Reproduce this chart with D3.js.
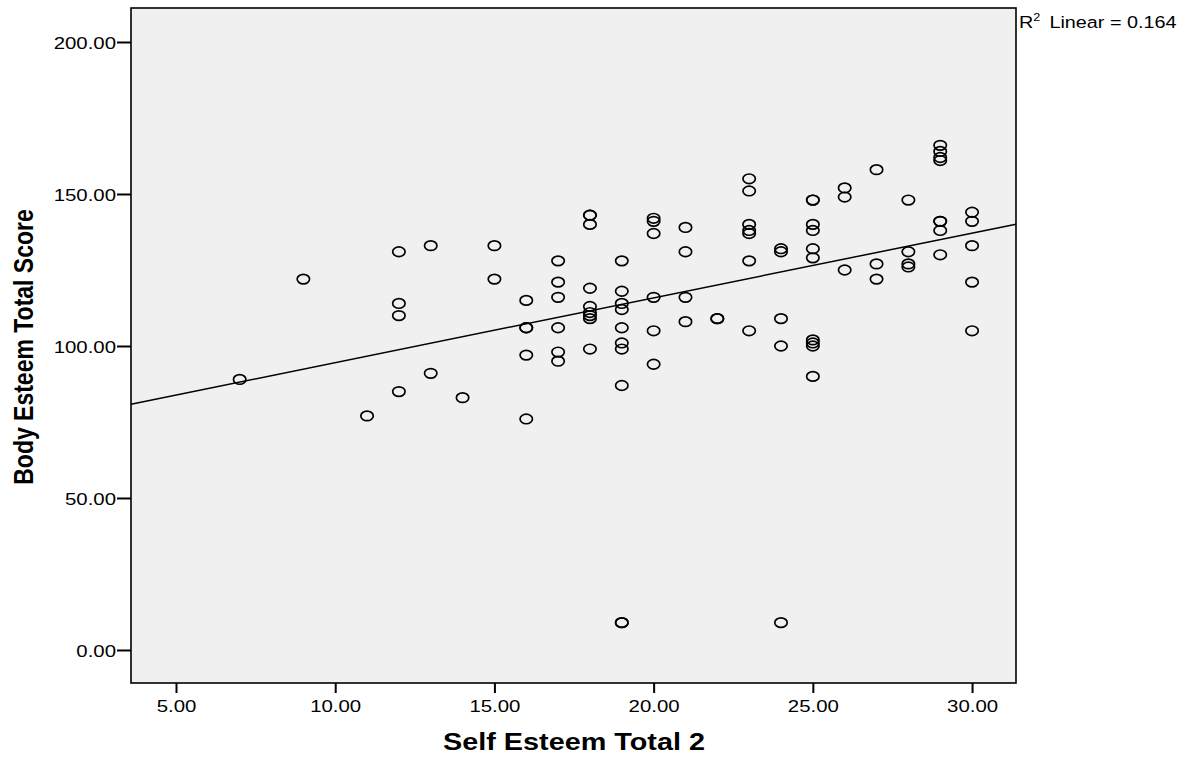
<!DOCTYPE html>
<html>
<head>
<meta charset="utf-8">
<script src="https://cdn.jsdelivr.net/npm/d3@7"></script>
<style>
  body { margin: 0; background: #fff; }
  text { font-family: "Liberation Sans", Arial, sans-serif; fill: #000; }
</style>
</head>
<body>
<svg id="chart" width="1194" height="758"></svg>
<script>
// Self Esteem Total 2 (x) vs Body Esteem Total Score (y)
var selfEsteem = [
  7, 9, 11,
  12, 12, 12, 12,
  13, 13, 14, 15, 15,
  16, 16, 16, 16, 16,
  17, 17, 17, 17, 17, 17,
  18, 18, 18, 18, 18, 18, 18, 18, 18,
  19, 19, 19, 19, 19, 19, 19, 19, 19, 19,
  20, 20, 20, 20, 20, 20,
  21, 21, 21, 21,
  22, 22,
  23, 23, 23, 23, 23, 23, 23,
  24, 24, 24, 24, 24,
  25, 25, 25, 25, 25, 25, 25, 25, 25, 25,
  26, 26, 26,
  27, 27, 27,
  28, 28, 28, 28,
  29, 29, 29, 29, 29, 29, 29, 29,
  30, 30, 30, 30, 30
];
var bodyEsteem = [
  89, 122, 77,
  131, 114, 110, 85,
  133, 91, 83, 133, 122,
  115, 106, 106, 97, 76,
  128, 121, 116, 106, 98, 95,
  143, 143, 140, 119, 113, 111, 110, 109, 99,
  128, 118, 114, 112, 106, 101, 99, 87, 9, 9,
  142, 141, 137, 116, 105, 94,
  139, 131, 116, 108,
  109, 109,
  155, 151, 140, 138, 137, 128, 105,
  132, 131, 109, 100, 9,
  148, 148, 140, 138, 132, 129, 102, 101, 100, 90,
  152, 149, 125,
  158, 127, 122,
  148, 131, 127, 126,
  166, 164, 162, 161, 141, 141, 138, 130,
  144, 141, 133, 121, 105
];
var xTicks = [5, 10, 15, 20, 25, 30];
var yTicks = [0, 50, 100, 150, 200];
var rSquared = "0.164";

var svg = d3.select("#chart");
var plotL = 131, plotR = 1016, plotT = 8, plotB = 683;
var sx = 1.2; // picture is stretched sideways

var x = d3.scaleLinear().domain([3.587, 31.38]).range([plotL, plotR]);
var y = d3.scaleLinear().domain([-10.86, 211.18]).range([plotB, plotT]);

var points = selfEsteem.map(function (v, i) { return { x: v, y: bodyEsteem[i] }; });

// least squares fit
var mx = d3.mean(points, d => d.x);
var my = d3.mean(points, d => d.y);
var sxy = d3.sum(points, d => (d.x - mx) * (d.y - my));
var sxx = d3.sum(points, d => (d.x - mx) * (d.x - mx));
var slope = sxy / sxx;
var intercept = my - slope * mx;

svg.append("rect")
  .attr("x", plotL).attr("y", plotT)
  .attr("width", plotR - plotL).attr("height", plotB - plotT)
  .attr("fill", "#f0f0f0");

var plot = svg.append("g");

var xd = x.domain();
plot.append("line")
  .attr("x1", x(xd[0])).attr("y1", y(intercept + slope * xd[0]))
  .attr("x2", x(xd[1])).attr("y2", y(intercept + slope * xd[1]))
  .attr("stroke", "#000").attr("stroke-width", 1.5);

plot.selectAll(".pt")
  .data(points)
  .enter().append("ellipse")
  .attr("class", "pt")
  .attr("cx", d => x(d.x))
  .attr("cy", d => y(d.y))
  .attr("rx", 6.2).attr("ry", 4.8)
  .attr("fill", "none")
  .attr("stroke", "#000")
  .attr("stroke-width", 1.7);

svg.append("rect")
  .attr("x", plotL).attr("y", plotT)
  .attr("width", plotR - plotL).attr("height", plotB - plotT)
  .attr("fill", "none").attr("stroke", "#000").attr("stroke-width", 1.6);

var xAxis = svg.append("g")
  .attr("transform", "translate(0," + plotB + ")")
  .call(d3.axisBottom(x).tickValues(xTicks).tickFormat(d3.format(".2f")).tickSize(10).tickSizeOuter(0));
xAxis.select(".domain").remove();
xAxis.selectAll(".tick line").attr("stroke-width", 2);
xAxis.selectAll(".tick text")
  .attr("font-size", 17).attr("dy", null).attr("y", 29)
  .attr("transform", "scale(" + sx + ",1)");

var yAxis = svg.append("g")
  .attr("transform", "translate(" + plotL + ",0)")
  .call(d3.axisLeft(y).tickValues(yTicks).tickFormat(d3.format(".2f")).tickSize(14).tickSizeOuter(0));
yAxis.select(".domain").remove();
yAxis.selectAll(".tick line").attr("stroke-width", 2);
yAxis.selectAll(".tick text")
  .attr("font-size", 17).attr("x", -15 / sx).attr("dy", "0.36em")
  .attr("transform", "scale(" + sx + ",1)");

svg.append("text")
  .attr("transform", "translate(574,750) scale(" + sx + ",1)")
  .attr("text-anchor", "middle")
  .attr("font-size", 24).attr("font-weight", "bold")
  .text("Self Esteem Total 2");

svg.append("text")
  .attr("transform", "translate(33,347) scale(" + sx + ",1) rotate(-90)")
  .attr("text-anchor", "middle")
  .attr("font-size", 23).attr("font-weight", "bold")
  .text("Body Esteem Total Score");

var r2 = svg.append("text")
  .attr("transform", "translate(1019,28) scale(" + sx + ",1)")
  .attr("font-size", 16.5);
r2.append("tspan").text("R");
r2.append("tspan").attr("font-size", 10.5).attr("dy", -7).text("2");
r2.append("tspan").attr("dy", 7).attr("dx", 3).text(" Linear = " + rSquared);
</script>
</body>
</html>
